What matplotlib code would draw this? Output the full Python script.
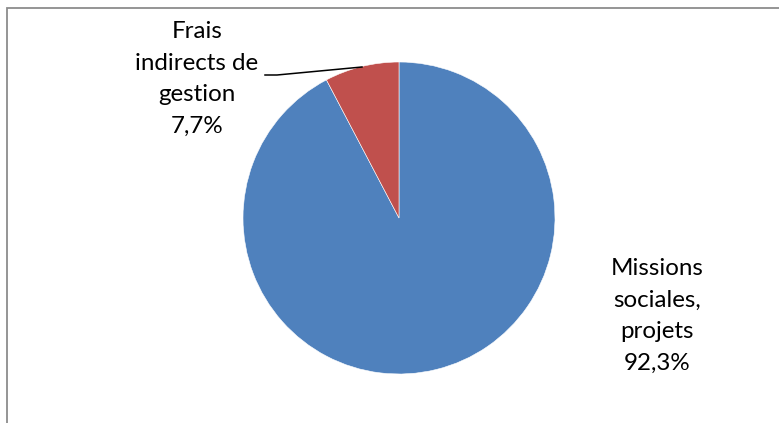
import matplotlib
matplotlib.use("Agg")
import matplotlib.pyplot as plt
from matplotlib.patches import Rectangle

# ----------------------------------------------------
# Data
# ----------------------------------------------------
labels = ["Missions\nsociales,\nprojets", "Frais\nindirects de\ngestion"]
values = [92.3, 7.7]
colors = ["#4F81BD", "#C0504D"]

W, H = 779, 423

plt.rcParams["font.family"] = ["Lato", "DejaVu Sans"]

fig = plt.figure(figsize=(W / 100, H / 100), dpi=100)
ax = fig.add_axes([0, 0, 1, 1])

# pie (pixel coordinates, y measured from bottom)
cx, cy, r = 399, H - 218, 156
ax.pie(values, colors=colors, startangle=90, counterclock=False,
       center=(cx, cy), radius=r, frame=True,
       wedgeprops=dict(edgecolor="white", linewidth=0.4))
ax.set_xlim(0, W)
ax.set_ylim(0, H)
ax.set_aspect("equal")
ax.axis("off")

def fmt(v):
    return f"{v:.1f}".replace(".", ",") + "%"

# labels
ax.text(657, H - 316, f"{labels[0]}\n{fmt(values[0])}", ha="center",
        va="center", fontsize=17.4, linespacing=1.64, color="black")
ax.text(197, H - 79, f"{labels[1]}\n{fmt(values[1])}", ha="center",
        va="center", fontsize=17.4, linespacing=1.64, color="black")

# leader line
ax.plot([265, 277, 362], [H - 75, H - 75, H - 67], color="black", lw=1.1)

# chart frame
ax.add_patch(Rectangle((7.5, -10), W + 20, H - 7.5 + 10, fill=False,
                       edgecolor="#8c8c8c", lw=1.3, clip_on=False))

fig.savefig("out.png", dpi=100)
